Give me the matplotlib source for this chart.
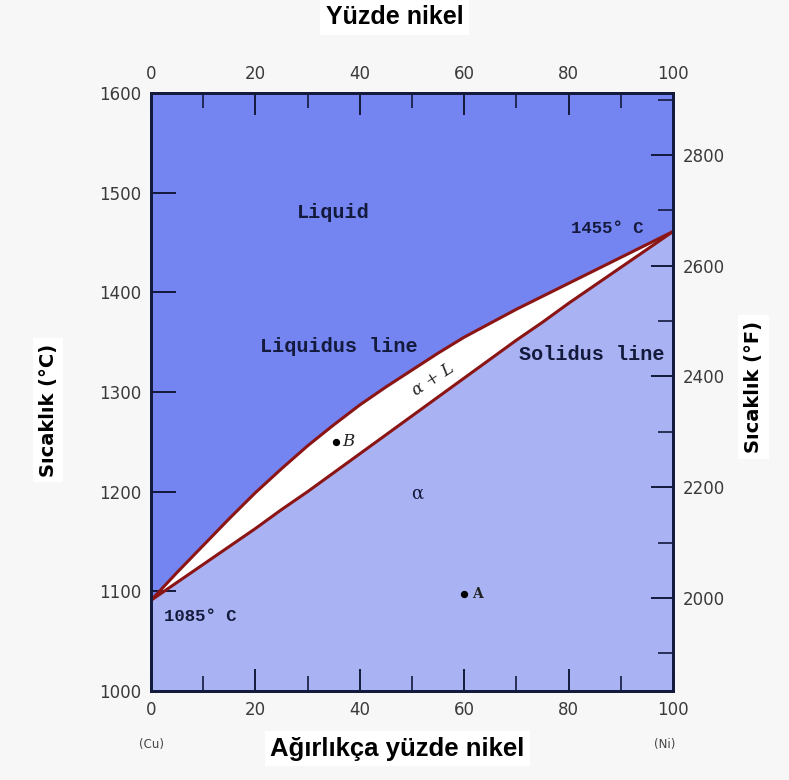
import matplotlib
matplotlib.use("Agg")
import matplotlib.pyplot as plt
from matplotlib.ticker import MultipleLocator

# Cu-Ni phase diagram
nickel = [0, 5, 10, 15, 20, 25, 30, 35, 40, 45, 50,
          55, 60, 65, 70, 75, 80, 85, 90, 95, 100]
liquidus = [1091, 1119, 1146, 1173, 1199, 1223, 1246, 1267, 1287, 1305, 1322,
            1339, 1355, 1369, 1383, 1396, 1409, 1422, 1435, 1448, 1461]
solidus = [1091, 1109, 1127, 1145, 1163, 1182, 1200, 1219, 1238, 1257, 1276,
           1295, 1314, 1333, 1352, 1370, 1389, 1407, 1425, 1443, 1461]

point_names = ["B", "A"]
point_ni = [35.5, 60]
point_temp = [1250, 1097]

c_ticks = [1000, 1100, 1200, 1300, 1400, 1500, 1600]
f_ticks = [2000, 2200, 2400, 2600, 2800]
ni_ticks = [0, 20, 40, 60, 80, 100]

liquid_col = '#7484f0'
alpha_col = '#a9b3f3'
line_col = '#8b1414'
ink = '#141a3c'
tick_txt = '#3a3a3a'
mono = ['Liberation Mono', 'DejaVu Sans Mono']

fig = plt.figure(figsize=(7.89, 7.80), dpi=100)
fig.patch.set_facecolor('#f7f7f7')
ax = fig.add_axes([151 / 789, 89 / 780, 522 / 789, 598 / 780])
ax.set_facecolor('white')

ax.fill_between(nickel, liquidus, 1600, color=liquid_col, lw=0, zorder=1)
ax.fill_between(nickel, 1000, solidus, color=alpha_col, lw=0, zorder=1)
ax.plot(nickel, liquidus, color=line_col, lw=2.2, zorder=3)
ax.plot(nickel, solidus, color=line_col, lw=2.2, zorder=3)

ax.set_xlim(0, 100)
ax.set_ylim(1000, 1600)
ax.set_xticks(ni_ticks)
ax.set_yticks(c_ticks)
ax.xaxis.set_minor_locator(MultipleLocator(10))

# right axis in Fahrenheit
axf = ax.twinx()
axf.set_ylim(1000 * 9 / 5 + 32, 1600 * 9 / 5 + 32)
axf.set_yticks(f_ticks)
axf.yaxis.set_minor_locator(MultipleLocator(100))

for a in (ax, axf):
    for s in a.spines.values():
        s.set_linewidth(2)
        s.set_color(ink)

ax.tick_params(which='major', direction='in', length=16, width=1.4, color=ink,
               labelsize=12, labelcolor=tick_txt, pad=7,
               top=True, labeltop=True, right=False)
ax.tick_params(axis='x', which='minor', direction='in', length=11, width=1.2,
               color=ink, top=True)
ax.tick_params(axis='x', which='major', pad=7)
ax.tick_params(axis='y', which='major', length=18)
axf.tick_params(which='major', direction='in', length=16, width=1.4, color=ink,
                labelsize=12, labelcolor=tick_txt, pad=7)
axf.tick_params(which='minor', direction='in', length=11, width=1.2, color=ink)

# region labels
ax.text(35, 1480, 'Liquid', family=mono, weight='bold', fontsize=14.5,
        color=ink, ha='center', va='center', zorder=6)
ax.text(36, 1346, 'Liquidus line', family=mono, weight='bold', fontsize=14.5,
        color=ink, ha='center', va='center', zorder=6)
ax.text(84.5, 1338, 'Solidus line', family=mono, weight='bold', fontsize=14.5,
        color=ink, ha='center', va='center', zorder=6)
ax.text(87.5, 1464, '1455° C', family=mono, weight='bold', fontsize=12.5,
        color=ink, ha='center', va='center', zorder=6)
ax.text(9.5, 1075, '1085° C', family=mono, weight='bold', fontsize=12.5,
        color=ink, ha='center', va='center', zorder=6)
ax.text(51, 1198, 'α', family='DejaVu Serif', fontsize=13, color=ink,
        ha='center', va='center', zorder=6)
ax.text(54, 1313, 'α + L', family='DejaVu Serif', style='italic', fontsize=12,
        color='#222222', ha='center', va='center', rotation=33, zorder=6)

ax.scatter(point_ni, point_temp, s=18, color='black', zorder=6)
ax.text(point_ni[0] + 1.2, point_temp[0], point_names[0], family='DejaVu Serif',
        style='italic', fontsize=12, color='#222222', va='center', zorder=6)
ax.text(point_ni[1] + 1.5, point_temp[1], point_names[1], family='DejaVu Serif',
        weight='bold', fontsize=10, color='#222222', va='center', zorder=6)

# axis titles
box = dict(facecolor='white', edgecolor='none', pad=4)
fig.text(0.500, 0.978, 'Yüzde nikel', family=['Liberation Sans Narrow', 'Liberation Sans'],
         weight='bold', fontsize=18, ha='center', va='center', bbox=box)
fig.text(0.504, 0.040, 'Ağırlıkça yüzde nikel', family='Liberation Sans', weight='bold',
         fontsize=18.5, ha='center', va='center', bbox=box)
fig.text(0.061, 0.474, 'Sıcaklık (°C)', family='DejaVu Sans', weight='bold',
         fontsize=14, rotation=90, ha='center', va='center', bbox=box)
fig.text(0.955, 0.504, 'Sıcaklık (°F)', family='DejaVu Sans', weight='bold',
         fontsize=14, rotation=90, ha='center', va='center', bbox=box)
fig.text(151 / 789, 0.045, '(Cu)', fontsize=8.5, color='#444444', ha='center', va='center')
fig.text(665 / 789, 0.045, '(Ni)', fontsize=8.5, color='#444444', ha='center', va='center')

fig.savefig('out.png', dpi=100, facecolor=fig.get_facecolor())
